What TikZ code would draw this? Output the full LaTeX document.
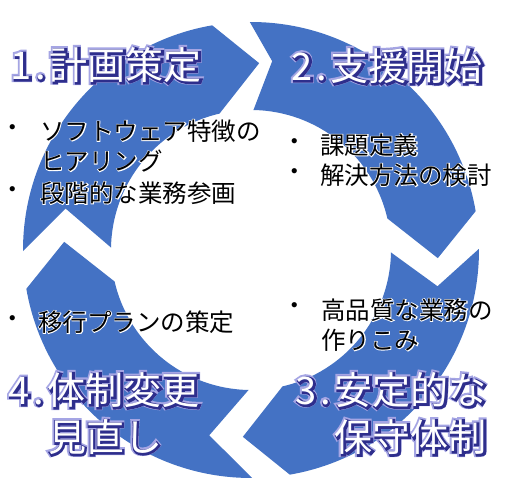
\documentclass[tikz,border=0pt]{standalone}
\usepackage{fontspec}
\usepackage{tikz}
\newfontfamily\jpfont{Noto Sans CJK JP}
\newfontfamily\jprim{Noto Sans CJK JP}[FakeBold=7.5]
\newfontfamily\jpglow{Noto Sans CJK JP}[FakeBold=14]
\newfontfamily\jphalo{Noto Sans CJK JP}[FakeBold=6]
\definecolor{ringblue}{RGB}{68,114,196}
\definecolor{rim}{RGB}{46,46,140}
\definecolor{glow}{RGB}{165,165,228}
\tikzset{ring/.style={fill=ringblue},
         ttl/.style={font=\jpfont\fontsize{38}{47}\selectfont,inner sep=0pt},
         txt/.style={font=\jpfont\fontsize{24.5}{30}\selectfont,inner sep=0pt,anchor=west},
         bul/.style={font=\jpfont\fontsize{24.5}{30}\selectfont,inner sep=0pt}}
\newcommand\ringarrow[3]{\fill[ring] (#1+0.3:228) arc[start angle=#1+0.3,end angle=#2+9.8,radius=228]
  -- (#2-2.5:187) -- (#2+13:140) arc[start angle=#2+13,end angle=#1-1,radius=140]
  -- (#1-#3:190) -- cycle;}
\newcommand\halotext[4]{\node[#1,text=white,font=\jphalo\fontsize{24.5}{30}\selectfont] at (#3) {#4};
  \node[#1] (#2) at (#3) {#4};}
\newcommand\titletext[4]{\node[#1,text=glow,font=\jpglow\fontsize{38}{47}\selectfont] at (#3) {#4};
  \node[#1,text=rim,font=\jprim\fontsize{38}{47}\selectfont,xshift=.8,yshift=-.8] at (#3) {#4};
  \node[#1,text=white] (#2) at (#3) {#4};}
\newcommand\hw[1]{\makebox[.5em]{#1}}

\begin{document}
\begin{tikzpicture}[x=1pt,y=1pt]
  \fill[white] (0,0) rectangle (506,500);
  \useasboundingbox (0,0) rectangle (506,500);
  \begin{scope}[shift={(251,250)}]
    \ringarrow{180}{90}{12.6}
    \ringarrow{90}{0}{6.4}
    \ringarrow{0}{-90}{11}
    \ringarrow{-90}{-180}{12.7}
  \end{scope}
  \titletext{ttl}{t1}{107,435}{\hw{1}\hw{.}計画策定}
  \titletext{ttl}{t2}{388,434}{\hw{2}\hw{.}支援開始}
  \titletext{ttl,align=right,anchor=east}{t3}{487,86.5}{\hw{3}\hw{.}安定的な\\保守体制}
  \titletext{ttl,align=center}{t4}{105,86.5}{\hw{4}\hw{.}体制変更\\見直し}
  \halotext{bul}{b1}{13,369}{・}
  \halotext{txt}{l1}{40,369}{ソフトウェア特徴の}
  \halotext{txt}{l2}{40,339}{ヒアリング}
  \halotext{bul}{b2}{13,307}{・}
  \halotext{txt}{l3}{40,307}{段階的な業務参画}
  \halotext{bul}{b3}{295,355}{・}
  \halotext{txt}{l4}{320,355}{課題定義}
  \halotext{bul}{b4}{295,325}{・}
  \halotext{txt}{l5}{320,325}{解決方法の検討}
  \halotext{bul}{b5}{13,178}{・}
  \halotext{txt}{l6}{38,178}{移行プランの策定}
  \halotext{bul}{b6}{295,191}{・}
  \halotext{txt}{l7}{321,190}{高品質な業務の}
  \halotext{txt}{l8}{321,160}{作りこみ}
\end{tikzpicture}
\end{document}
